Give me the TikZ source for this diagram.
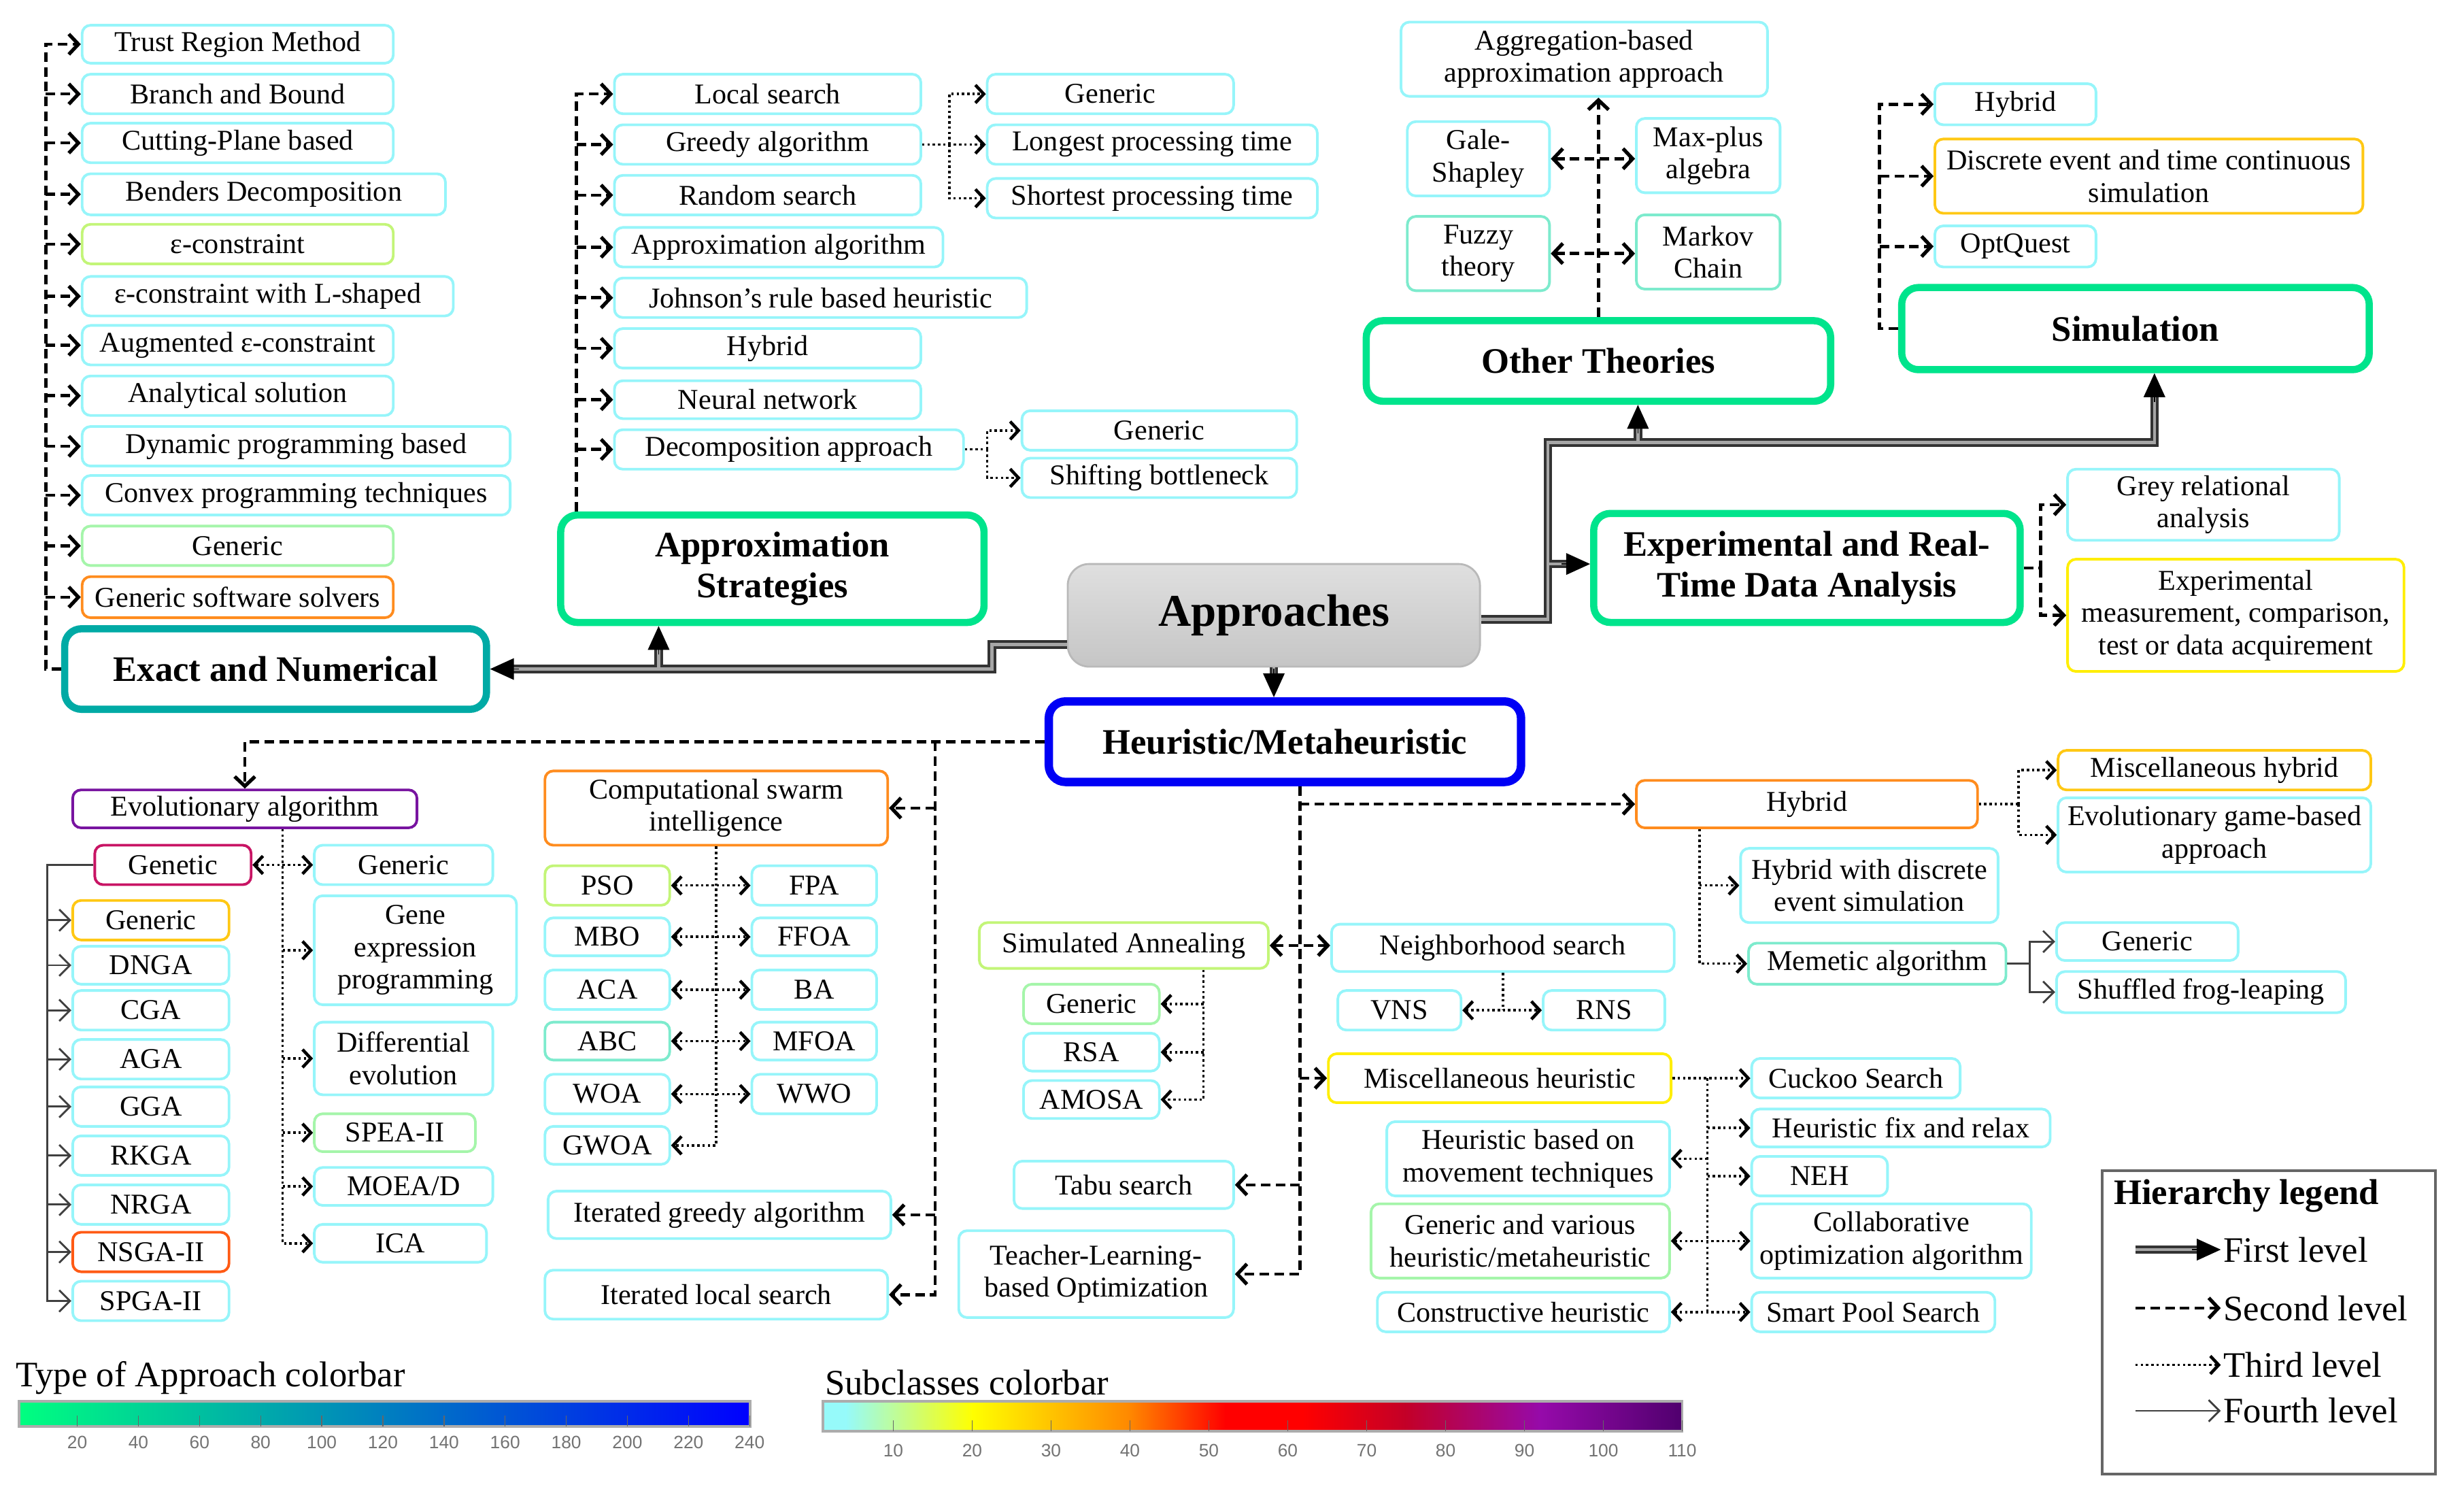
\documentclass[tikz,border=0pt]{standalone}
\usepackage{fontspec}
\setmainfont{Liberation Serif}
\setsansfont{Liberation Sans}
\usetikzlibrary{arrows.meta}
\newlength\unitpx
\setlength\unitpx{0.023225cm}
\definecolor{cyanb}{RGB}{150,245,250}
\definecolor{lgreenb}{RGB}{165,245,170}
\definecolor{ygreenb}{RGB}{195,245,120}
\definecolor{orangeb}{RGB}{255,140,30}
\definecolor{goldb}{RGB}{255,200,20}
\definecolor{yellowb}{RGB}{255,238,0}
\definecolor{purpleb}{RGB}{120,20,160}
\definecolor{crimsonb}{RGB}{200,20,100}
\definecolor{orredb}{RGB}{255,90,20}
\definecolor{aquab}{RGB}{125,235,205}
\definecolor{maingreen}{RGB}{0,228,140}
\definecolor{tealb}{RGB}{0,170,165}
\definecolor{blueb}{RGB}{0,0,245}
\definecolor{cbA}{RGB}{0,255,128}
\definecolor{cbB}{RGB}{0,0,255}
\definecolor{sbA}{RGB}{150,250,250}
\definecolor{sbB}{RGB}{255,255,0}
\definecolor{sbC}{RGB}{255,135,0}
\definecolor{sbD}{RGB}{255,0,0}
\definecolor{sbE}{RGB}{195,0,40}
\definecolor{sbF}{RGB}{150,10,170}
\definecolor{sbG}{RGB}{80,0,110}
\tikzset{
  sb/.style={rectangle, rounded corners=3.5pt, line width=1.1pt, fill=white, align=center, inner sep=1pt, font=\fontsize{12}{13.5}\selectfont},
  cb/.style={sb, draw=cyanb},
  lgb/.style={sb, draw=lgreenb},
  ygb/.style={sb, draw=ygreenb},
  ogb/.style={sb, draw=orangeb},
  gdb/.style={sb, draw=goldb},
  ywb/.style={sb, draw=yellowb},
  pub/.style={sb, draw=purpleb},
  crb/.style={sb, draw=crimsonb},
  orb/.style={sb, draw=orredb},
  aqb/.style={sb, draw=aquab},
  bigbox/.style={rectangle, rounded corners=7pt, line width=3pt, fill=white, align=center, inner sep=2pt, font=\bfseries\fontsize{15}{17}\selectfont},
  bgn/.style={bigbox, draw=maingreen},
  btl/.style={bigbox, draw=tealb},
  bbl/.style={bigbox, draw=blueb, line width=3.5pt},
  appst/.style={rectangle, rounded corners=9pt, draw=gray!55, line width=0.8pt, top color=gray!25, bottom color=gray!45, font=\bfseries\fontsize{19}{21}\selectfont, inner sep=2pt},
  legst/.style={rectangle, draw=black!60, line width=1.2pt, fill=white},
  legtxt/.style={anchor=west, inner sep=1pt, font=\fontsize{15}{17}\selectfont},
  lev2/.style={line width=1.3pt, dash pattern=on 4pt off 2.2pt, >={Straight Barb[length=4pt,width=8.5pt,line width=1.5pt]}},
  lev3/.style={line width=1pt, dash pattern=on 1pt off 1.2pt, >={Straight Barb[length=3.5pt,width=7.5pt,line width=1.3pt]}},
  lev4/.style={line width=0.8pt, draw=black!75, >={Straight Barb[length=4.5pt,width=9pt]}},
  firstout/.style={line width=3.6pt, draw=black!80},
  firstin/.style={line width=1.3pt, draw=black!35},
  ftip/.style={-{Triangle[length=10pt,width=9pt]}, line width=0.5pt, draw=black, fill=black},
  ticklab/.style={font=\sffamily\fontsize{7.5}{8}\selectfont, text=black!55, inner sep=0pt},
}
\newcommand{\bx}[7]{\node[#1, minimum width={(#5-#3)*\unitpx}, minimum height={(#6-#4)*\unitpx}] (#2) at ({(#3+#5)/2},{(#4+#6)/2}) {#7};}
\begin{document}
\begin{tikzpicture}[x=\unitpx, y=-\unitpx]
\fill[white] (0,0) rectangle (1560,952);
\useasboundingbox (0,0) rectangle (1560,952);

% ---------- Exact and Numerical ----------
\bx{cb}{trm}{52}{16}{249}{40}{Trust Region Method}
\bx{cb}{bnb}{52}{47}{249}{72}{Branch and Bound}
\bx{cb}{cpb}{52}{78}{249}{103}{Cutting-Plane based}
\bx{cb}{bend}{52}{110}{282}{136}{Benders Decomposition}
\bx{ygb}{epsc}{52}{142}{249}{167}{ε-constraint}
\bx{cb}{epsl}{52}{175}{287}{200}{ε-constraint with L-shaped}
\bx{cb}{aug}{52}{206}{249}{231}{Augmented ε-constraint}
\bx{cb}{anal}{52}{238}{249}{263}{Analytical solution}
\bx{cb}{dyn}{52}{270}{323}{295}{Dynamic programming based}
\bx{cb}{cvx}{52}{301}{323}{326}{Convex programming techniques}
\bx{lgb}{exgen}{52}{333}{249}{358}{Generic}
\bx{ogb}{gss}{52}{365}{249}{391}{Generic software solvers}
\bx{btl}{exact}{41}{398}{308}{449}{Exact and Numerical}

% ---------- Approximation Strategies ----------
\bx{cb}{local}{389}{47}{583}{72}{Local search}
\bx{cb}{greedy}{389}{79}{583}{104}{Greedy algorithm}
\bx{cb}{rsearch}{389}{111}{583}{136}{Random search}
\bx{cb}{apalg}{389}{144}{597}{169}{Approximation algorithm}
\bx{cb}{john}{389}{176}{650}{201}{Johnson’s rule based heuristic}
\bx{cb}{ahyb}{389}{208}{583}{233}{Hybrid}
\bx{cb}{neural}{389}{241}{583}{265}{Neural network}
\bx{cb}{decomp}{389}{272}{610}{297}{Decomposition approach}
\bx{bgn}{approx}{355}{326}{623}{394}{Approximation\\Strategies}
\bx{cb}{gen1}{625}{47}{781}{72}{Generic}
\bx{cb}{lpt}{625}{79}{834}{104}{Longest processing time}
\bx{cb}{spt}{625}{113}{834}{138}{Shortest processing time}
\bx{cb}{dgen}{647}{260}{821}{285}{Generic}
\bx{cb}{shift}{647}{290}{821}{315}{Shifting bottleneck}

% ---------- Other Theories ----------
\bx{cb}{agg}{887}{14}{1119}{61}{Aggregation-based\\approximation approach}
\bx{cb}{gale}{891}{77}{981}{124}{Gale-\\Shapley}
\bx{cb}{maxp}{1036}{75}{1127}{122}{Max-plus\\algebra}
\bx{aqb}{fuzzy}{891}{137}{981}{184}{Fuzzy\\theory}
\bx{aqb}{markov}{1036}{136}{1127}{183}{Markov\\Chain}
\bx{bgn}{other}{865}{203}{1159}{254}{Other Theories}

% ---------- Simulation ----------
\bx{cb}{shyb}{1225}{53}{1327}{79}{Hybrid}
\bx{gdb}{disc}{1225}{88}{1496}{135}{Discrete event and time continuous\\simulation}
\bx{cb}{optq}{1225}{143}{1327}{169}{OptQuest}
\bx{bgn}{sim}{1204}{182}{1500}{234}{Simulation}

% ---------- Approaches ----------
\bx{appst}{app}{676}{357}{937}{422}{Approaches}

% ---------- Experimental ----------
\bx{bgn}{exp}{1009}{325}{1279}{394}{Experimental and Real-\\Time Data Analysis}
\bx{cb}{grey}{1309}{297}{1481}{342}{Grey relational\\analysis}
\bx{ywb}{expm}{1309}{354}{1522}{425}{Experimental\\measurement, comparison,\\test or data acquirement}

% ---------- Heuristic ----------
\bx{bbl}{heur}{664}{444}{963}{495}{Heuristic/Metaheuristic}

% ---------- Evolutionary ----------
\bx{pub}{evo}{46}{500}{264}{524}{Evolutionary algorithm}
\bx{crb}{genetic}{60}{535}{159}{560}{Genetic}
\bx{cb}{egen}{199}{535}{312}{560}{Generic}
\bx{cb}{gep}{199}{567}{327}{636}{Gene\\expression\\programming}
\bx{cb}{de}{199}{647}{312}{693}{Differential\\evolution}
\bx{lgb}{spea}{199}{705}{301}{729}{SPEA-II}
\bx{cb}{moea}{199}{739}{312}{763}{MOEA/D}
\bx{cb}{ica}{199}{775}{308}{799}{ICA}
\bx{gdb}{gagen}{46}{570}{145}{595}{Generic}
\bx{cb}{dnga}{46}{599}{145}{623}{DNGA}
\bx{cb}{cga}{46}{627}{145}{652}{CGA}
\bx{cb}{aga}{46}{658}{145}{683}{AGA}
\bx{cb}{gga}{46}{688}{145}{713}{GGA}
\bx{cb}{rkga}{46}{719}{145}{744}{RKGA}
\bx{cb}{nrga}{46}{750}{145}{775}{NRGA}
\bx{orb}{nsga}{46}{780}{145}{805}{NSGA-II}
\bx{cb}{spga}{46}{811}{145}{836}{SPGA-II}

% ---------- Swarm ----------
\bx{ogb}{swarm}{345}{488}{562}{535}{Computational swarm\\intelligence}
\bx{ygb}{pso}{345}{548}{424}{573}{PSO}
\bx{cb}{mbo}{345}{581}{424}{605}{MBO}
\bx{cb}{aca}{345}{614}{424}{639}{ACA}
\bx{aqb}{abc}{345}{647}{424}{671}{ABC}
\bx{cb}{woa}{345}{680}{424}{705}{WOA}
\bx{cb}{gwoa}{345}{713}{424}{737}{GWOA}
\bx{cb}{fpa}{476}{548}{555}{573}{FPA}
\bx{cb}{ffoa}{476}{581}{555}{605}{FFOA}
\bx{cb}{ba}{476}{614}{555}{639}{BA}
\bx{cb}{mfoa}{476}{647}{555}{671}{MFOA}
\bx{cb}{wwo}{476}{680}{555}{705}{WWO}
\bx{cb}{igreedy}{347}{754}{564}{784}{Iterated greedy algorithm}
\bx{cb}{ils}{345}{804}{562}{835}{Iterated local search}

% ---------- Middle ----------
\bx{ygb}{sa}{620}{584}{803}{613}{Simulated Annealing}
\bx{lgb}{sgen}{648}{623}{734}{648}{Generic}
\bx{cb}{rsa}{648}{654}{734}{678}{RSA}
\bx{cb}{amosa}{648}{684}{734}{708}{AMOSA}
\bx{cb}{nbh}{843}{585}{1060}{615}{Neighborhood search}
\bx{cb}{vns}{847}{627}{925}{652}{VNS}
\bx{cb}{rns}{977}{627}{1054}{652}{RNS}
\bx{ywb}{misc}{841}{667}{1058}{698}{Miscellaneous heuristic}
\bx{cb}{hbm}{878}{710}{1057}{757}{Heuristic based on\\movement techniques}
\bx{lgb}{gav}{868}{762}{1057}{809}{Generic and various\\heuristic/metaheuristic}
\bx{cb}{constr}{872}{818}{1057}{843}{Constructive heuristic}
\bx{cb}{tabu}{642}{735}{781}{765}{Tabu search}
\bx{cb}{tlbo}{607}{779}{781}{834}{Teacher-Learning-\\based Optimization}
\bx{cb}{cuckoo}{1109}{670}{1241}{695}{Cuckoo Search}
\bx{cb}{fix}{1109}{702}{1298}{726}{Heuristic fix and relax}
\bx{cb}{neh}{1109}{732}{1195}{757}{NEH}
\bx{cb}{collab}{1109}{762}{1286}{809}{Collaborative\\optimization algorithm}
\bx{cb}{smart}{1109}{818}{1263}{843}{Smart Pool Search}

% ---------- Hybrid ----------
\bx{ogb}{hyb}{1036}{494}{1252}{524}{Hybrid}
\bx{gdb}{mhyb}{1303}{475}{1501}{500}{Miscellaneous hybrid}
\bx{cb}{egame}{1303}{505}{1501}{552}{Evolutionary game-based\\approach}
\bx{cb}{hdes}{1102}{537}{1265}{584}{Hybrid with discrete\\event simulation}
\bx{aqb}{memetic}{1107}{597}{1270}{623}{Memetic algorithm}
\bx{cb}{mgen}{1302}{584}{1417}{608}{Generic}
\bx{cb}{sfl}{1302}{615}{1485}{641}{Shuffled frog-leaping}

% ---------- Legend ----------
\bx{legst}{leg}{1331}{741}{1542}{933}{}
\node[anchor=west, inner sep=0pt, font=\bfseries\fontsize{15}{17}\selectfont] (legt) at (1338,757) {Hierarchy legend};
\node[legtxt] (lt1) at (1406,791) {First level};
\node[legtxt] (lt2) at (1406,828) {Second level};
\node[legtxt] (lt3) at (1406,864) {Third level};
\node[legtxt] (lt4) at (1406,893) {Fourth level};
\coordinate (ls1) at (1352,791);
\coordinate (ls2) at (1352,828);
\coordinate (ls3) at (1352,864);
\coordinate (ls4) at (1352,893);

% ---------- First level connectors ----------
\coordinate (jL) at (628,408);
\coordinate (jA) at (417,423.5);
\coordinate (jR) at (980,392);
\coordinate (jT) at (980,280);
\coordinate (jS) at (1364,280);
\coordinate (jO) at (1037,280);
\coordinate (jE) at (980,357);
\coordinate (tA) at (jA |- approx.south);
\coordinate (tH) at (app.south |- heur.north);
\coordinate (tS) at (jS |- sim.south);
\coordinate (tO) at (jO |- other.south);
\coordinate (tE) at (jE -| exp.west);
\foreach \st in {firstout,firstin}{
  \draw[\st, shorten >=7pt] (app.west |- jL) -- (jL) |- (exact.east);
  \draw[\st, shorten >=7pt] (jA) -- (tA);
  \draw[\st, shorten >=7pt] (app.south) -- (tH);
  \draw[\st, shorten >=7pt] (app.east |- jR) -- (jR) -- (jT) -- (jS) -- (tS);
  \draw[\st, shorten >=7pt] (jO) -- (tO);
  \draw[\st, shorten >=7pt] (jE) -- (tE);
  \draw[\st, shorten >=7pt] (ls1) -- (lt1.west);
}
\draw[ftip] ([xshift=12pt]exact.east) -- (exact.east);
\draw[ftip] ([yshift=-12pt]tA) -- (tA);
\draw[ftip] ([yshift=12pt]tH) -- (tH);
\draw[ftip] ([yshift=-12pt]tS) -- (tS);
\draw[ftip] ([yshift=-12pt]tO) -- (tO);
\draw[ftip] ([xshift=-12pt]tE) -- (tE);
\draw[ftip] ([xshift=-12pt]lt1.west) -- (lt1.west);

% ---------- Legend connectors ----------
\draw[lev2,->] (ls2) -- (lt2.west);
\draw[lev3,->] (ls3) -- (lt3.west);
\draw[lev4,->] (ls4) -- (lt4.west);

% ---------- Exact connectors ----------
\coordinate (tex) at (29,0);
\draw[lev2,->] (exact.west) -| (tex |- trm.west) -- (trm.west);
\foreach \n in {bnb,cpb,bend,epsc,epsl,aug,anal,dyn,cvx,exgen,gss}
  \draw[lev2,->] (tex |- \n.west) -- (\n.west);

% ---------- Approximation connectors ----------
\coordinate (tap) at (365,0);
\draw[lev2,->] (tap |- approx.north) -- (tap |- local.west) -- (local.west);
\foreach \n in {greedy,rsearch,apalg,john,ahyb,neural,decomp}
  \draw[lev2,->] (tap |- \n.west) -- (\n.west);
\coordinate (tgr) at (601,0);
\draw[lev3,->] (greedy.east) -- (lpt.west);
\draw[lev3,->] (tgr |- greedy.east) |- (gen1.west);
\draw[lev3,->] (tgr |- greedy.east) |- (spt.west);
\coordinate (tdc) at (625,0);
\draw[lev3] (decomp.east) -- (tdc |- decomp.east);
\draw[lev3,->] (tdc |- decomp.east) |- (dgen.west);
\draw[lev3,->] (tdc |- decomp.east) |- (shift.west);

% ---------- Other theories connectors ----------
\draw[lev2,->] (other.north) -- (other.north |- agg.south);
\draw[lev2,<->] (gale.east) -- (gale.east -| maxp.west);
\draw[lev2,<->] (fuzzy.east) -- (fuzzy.east -| markov.west);

% ---------- Simulation connectors ----------
\coordinate (tsi) at (1190,0);
\draw[lev2,->] (sim.west) -| (tsi |- shyb.west) -- (shyb.west);
\draw[lev2,->] (tsi |- disc.west) -- (disc.west);
\draw[lev2,->] (tsi |- optq.west) -- (optq.west);

% ---------- Experimental connectors ----------
\coordinate (tep) at (1292,0);
\draw[lev2,->] (exp.east) -| (tep |- grey.west) -- (grey.west);
\draw[lev2,->] (tep |- exp.east) |- (expm.west);

% ---------- Heuristic connectors ----------
\draw[lev2,->] (heur.west) -| (evo.north);
\coordinate (tsw) at (592,0);
\draw[lev2,->] (tsw |- heur.west) |- (ils.east);
\draw[lev2,->] (tsw |- swarm.east) -- (swarm.east);
\draw[lev2,->] (tsw |- igreedy.east) -- (igreedy.east);
\coordinate (thb) at (823,0);
\draw[lev2,->] (thb |- heur.south) |- (tlbo.east);
\draw[lev2,->] (thb |- hyb.west) -- (hyb.west);
\draw[lev2,<->] (sa.east) -- (sa.east -| nbh.west);
\draw[lev2,->] (thb |- misc.west) -- (misc.west);
\draw[lev2,->] (thb |- tabu.east) -- (tabu.east);

% ---------- Evolutionary connectors ----------
\coordinate (tev) at (179,0);
\draw[lev3,->] (tev |- evo.south) |- (ica.west);
\draw[lev3,<->] (genetic.east) -- (egen.west);
\foreach \n in {gep,de,spea,moea}
  \draw[lev3,->] (tev |- \n.west) -- (\n.west);
\coordinate (tga) at (30,0);
\draw[lev4,->] (genetic.west) -| (tga |- spga.west) -- (spga.west);
\foreach \n in {gagen,dnga,cga,aga,gga,rkga,nrga,nsga}
  \draw[lev4,->] (tga |- \n.west) -- (\n.west);

% ---------- Swarm connectors ----------
\draw[lev3,->] (swarm.south) |- (gwoa.east);
\foreach \a/\b in {pso/fpa,mbo/ffoa,aca/ba,abc/mfoa,woa/wwo}
  \draw[lev3,<->] (\a.east) -- (\b.west);

% ---------- SA / NBH connectors ----------
\coordinate (tsa) at (762,0);
\draw[lev3,->] (tsa |- sa.south) |- (amosa.east);
\draw[lev3,->] (tsa |- sgen.east) -- (sgen.east);
\draw[lev3,->] (tsa |- rsa.east) -- (rsa.east);
\draw[lev3] (nbh.south) -- (nbh.south |- vns.east);
\draw[lev3,<->] (vns.east) -- (rns.west);

% ---------- Misc connectors ----------
\coordinate (tmi) at (1081,0);
\draw[lev3,->] (misc.east) -- (misc.east -| cuckoo.west);
\draw[lev3] (tmi |- misc.east) -- (tmi |- smart.west);
\draw[lev3,->] (tmi |- fix.west) -- (fix.west);
\draw[lev3,->] (tmi |- neh.west) -- (neh.west);
\draw[lev3,->] (tmi |- hbm.east) -- (hbm.east);
\draw[lev3,<->] (gav.east) -- (collab.west);
\draw[lev3,<->] (constr.east) -- (smart.west);

% ---------- Hybrid connectors ----------
\coordinate (thy) at (1278,0);
\draw[lev3] (hyb.east) -- (thy |- hyb.east);
\draw[lev3,->] (thy |- hyb.east) |- (mhyb.west);
\draw[lev3,->] (thy |- hyb.east) |- (egame.west);
\coordinate (thd) at (1076,0);
\draw[lev3,->] (thd |- hyb.south) |- (memetic.west);
\draw[lev3,->] (thd |- hdes.west) -- (hdes.west);
\coordinate (tme) at (1285,0);
\draw[lev4] (memetic.east) -- (tme |- memetic.east);
\draw[lev4,->] (tme |- memetic.east) |- (mgen.west);
\draw[lev4,->] (tme |- memetic.east) |- (sfl.west);

% ---------- Colorbars ----------
\node[anchor=west, inner sep=0pt, font=\fontsize{15}{17}\selectfont] (cbt1) at (10,872) {Type of Approach colorbar};
\shade[left color=cbA, right color=cbB] (12,887) rectangle (475,903);
\draw[gray!65, line width=1pt] (12,887) rectangle (475,903);
\foreach \v in {20,40,...,240}{
  \draw[black!60, line width=0.4pt] ({10.2+1.935*\v},896) -- ({10.2+1.935*\v},903);
  \node[ticklab] at ({10.2+1.935*\v},913) {\v};
}
\node[anchor=west, inner sep=0pt, font=\fontsize{15}{17}\selectfont] (cbt2) at (522,875) {Subclasses colorbar};
\fill[sbA] (521,887) rectangle (536,906);
\shade[left color=sbA, right color=sbB] (535.5,887) rectangle (616,906);
\shade[left color=sbB, right color=sbC] (615.5,887) rectangle (716,906);
\shade[left color=sbC, right color=sbD] (715.5,887) rectangle (776,906);
\fill[sbD] (775.5,887) rectangle (825.5,906);
\shade[left color=sbD, right color=sbE] (825,887) rectangle (890.5,906);
\shade[left color=sbE, right color=sbF] (890,887) rectangle (975.5,906);
\shade[left color=sbF, right color=sbG] (975,887) rectangle (1065,906);
\draw[gray!65, line width=1pt] (521,887) rectangle (1065,906);
\foreach \v in {10,20,...,110}{
  \draw[black!60, line width=0.4pt] ({515.6+4.995*\v},899) -- ({515.6+4.995*\v},906);
  \node[ticklab] at ({515.6+4.995*\v},918) {\v};
}
\end{tikzpicture}
\end{document}
